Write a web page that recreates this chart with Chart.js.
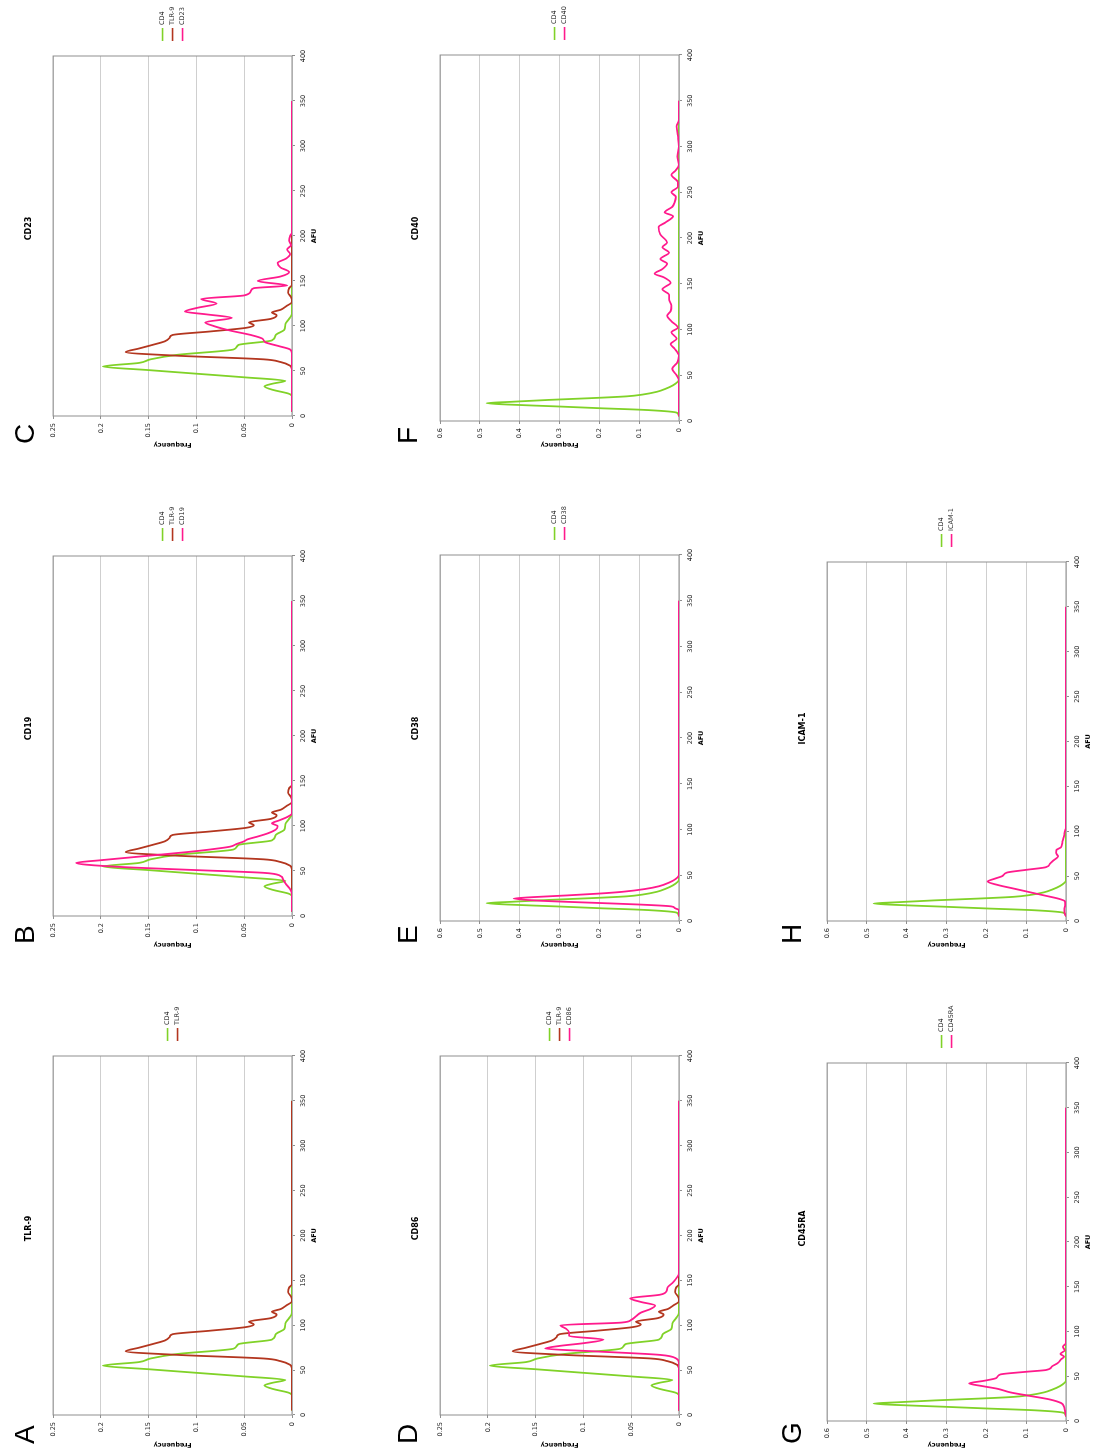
<!DOCTYPE html>
<html>
<head>
<meta charset="utf-8">
<script src="https://cdn.jsdelivr.net/npm/chart.js@4.4.1/dist/chart.umd.min.js"></script>
<style>
  html, body { margin: 0; padding: 0; background: #fff; }
  body { width: 1098px; height: 1456px; overflow: hidden; position: relative; }
  /* the figure is laid out landscape, then turned a quarter turn left */
  #sheet { position: absolute; left: 0; top: 0; width: 1456px; height: 1098px;
           transform-origin: 0 0; transform: translate(0, 1456px) rotate(-90deg); }
  .panel { position: absolute; }
  .letter { position: absolute; font: 28px "Liberation Sans", Arial, sans-serif; line-height: 28px; color: #000; }
</style>
</head>
<body>
<div id="sheet"></div>
<script>
/* --------------- Tick Labels --------------------- */
const afuTicks = [0, 50, 100, 150, 200, 250, 300, 350, 400];
const freqTicksLow = [0, 0.05, 0.1, 0.15, 0.2, 0.25];
const freqTicksHigh = [0, 0.1, 0.2, 0.3, 0.4, 0.5, 0.6];

/* --------------- Series (AFU, Frequency) --------------------- */
// CD4 reference, panels A-D
const cd4LowAfu  = [5, 22, 25, 29, 33, 36, 39, 43, 47, 51, 55, 59, 63, 68, 74, 79, 84, 90, 96, 102, 108, 114, 350];
const cd4LowFreq = [0, 0, 0.004, 0.02, 0.029, 0.02, 0.007, 0.05, 0.1, 0.15, 0.198, 0.16, 0.148, 0.12, 0.061, 0.056, 0.021, 0.017, 0.008, 0.007, 0.003, 0, 0];

const tlr9Afu  = [5, 52, 56, 60, 63, 67, 71, 75, 79, 83, 87, 90, 94, 98, 101, 104, 108, 112, 115, 118, 122, 127, 132, 137, 142, 146, 350];
const tlr9Freq = [0, 0, 0.002, 0.012, 0.03, 0.12, 0.174, 0.16, 0.146, 0.133, 0.128, 0.125, 0.085, 0.048, 0.04, 0.045, 0.022, 0.016, 0.021, 0.012, 0.006, 0, 0.001, 0.004, 0.003, 0, 0];

const cd19Afu  = [5, 25, 30, 35, 40, 45, 48, 51, 54, 57, 59, 62, 65, 68, 71, 74, 77, 80, 83, 85, 88, 92, 96, 100, 103, 106, 110, 114, 350];
const cd19Freq = [0, 0, 0.002, 0.006, 0.009, 0.013, 0.03, 0.1, 0.17, 0.215, 0.226, 0.2, 0.17, 0.14, 0.11, 0.085, 0.065, 0.058, 0.05, 0.047, 0.037, 0.025, 0.017, 0.015, 0.021, 0.014, 0.005, 0, 0];

const cd23Afu  = [5, 70, 74, 78, 82, 86, 90, 95, 100, 104, 109, 113, 116, 120, 125, 130, 134, 139, 142, 145, 150, 155, 160, 165, 170, 175, 180, 185, 190, 195, 200, 204, 350];
const cd23Freq = [0, 0, 0.002, 0.015, 0.028, 0.031, 0.043, 0.065, 0.082, 0.091, 0.063, 0.09, 0.112, 0.1, 0.079, 0.095, 0.05, 0.043, 0.04, 0.005, 0.036, 0.012, 0.003, 0.012, 0.015, 0.006, 0.002, 0.005, 0.001, 0.003, 0.002, 0, 0];

const cd86Afu  = [5, 58, 63, 67, 71, 74, 77, 80, 84, 88, 92, 96, 100, 103, 106, 110, 114, 118, 122, 126, 130, 134, 138, 142, 147, 152, 158, 350];
const cd86Freq = [0, 0, 0.003, 0.02, 0.09, 0.14, 0.125, 0.1, 0.079, 0.115, 0.115, 0.118, 0.124, 0.06, 0.05, 0.045, 0.04, 0.03, 0.025, 0.04, 0.051, 0.02, 0.013, 0.012, 0.007, 0.003, 0, 0];

// CD4 reference, panels E-H
const cd4HighAfu  = [5, 9, 12, 14, 16, 18, 19.5, 21, 23, 25, 27, 29, 32, 35, 39, 43, 46, 350];
const cd4HighFreq = [0, 0.005, 0.08, 0.2, 0.31, 0.43, 0.483, 0.42, 0.33, 0.22, 0.13, 0.09, 0.055, 0.035, 0.015, 0.003, 0, 0];

const cd38Afu  = [5, 12, 14, 16, 18, 20, 22, 24.5, 26, 28, 30, 32, 35, 38, 42, 46, 50, 350];
const cd38Freq = [0, 0, 0.01, 0.02, 0.1, 0.22, 0.34, 0.415, 0.37, 0.28, 0.2, 0.14, 0.085, 0.05, 0.025, 0.008, 0, 0];

const cd40Afu  = [5, 44, 50, 57, 64, 71, 79, 84, 90, 97, 102, 109, 115, 120, 126, 133, 138, 144, 151, 157, 161, 166, 172, 177, 184, 190, 195, 204, 212, 217, 224, 228, 234, 239, 245, 250, 256, 261, 269, 274, 280, 289, 300, 312, 322, 329, 350];
const cd40Freq = [0, 0, 0.006, 0.017, 0.004, 0, 0.011, 0.021, 0.006, 0.019, 0.003, 0.019, 0.03, 0.021, 0.019, 0.025, 0.025, 0.042, 0.021, 0.038, 0.061, 0.042, 0.03, 0.047, 0.025, 0.042, 0.03, 0.047, 0.051, 0.034, 0.015, 0.036, 0.017, 0.011, 0.008, 0.019, 0.003, 0.003, 0.019, 0.008, 0, 0.004, 0, 0.003, 0.006, 0, 0];

const cd45raAfu  = [5, 12, 16, 20, 24, 28, 32, 36, 39, 42, 45, 48, 52, 55, 57, 61, 65, 69, 72, 75, 79, 83, 87, 350];
const cd45raFreq = [0, 0.003, 0.005, 0.012, 0.04, 0.09, 0.14, 0.172, 0.21, 0.243, 0.205, 0.175, 0.165, 0.1, 0.05, 0.035, 0.02, 0.012, 0.005, 0.014, 0.003, 0.008, 0, 0];

const icamAfu  = [5, 10, 14, 18, 22, 25, 28, 32, 36, 40, 44, 47, 50, 54, 57, 60, 64, 68, 72, 76, 79, 82, 86, 90, 95, 100, 104, 350];
const icamFreq = [0, 0.004, 0.004, 0.002, 0.003, 0.02, 0.05, 0.09, 0.13, 0.17, 0.197, 0.18, 0.16, 0.148, 0.1, 0.05, 0.04, 0.03, 0.02, 0.025, 0.024, 0.013, 0.01, 0.008, 0.005, 0.003, 0, 0];

/* --------------- Colours --------------------- */
const green = "#80d228";
const brown = "#b3361f";
const pink = "#ff1a8c";

const line = (label, afu, freq, color) => ({ label, afu, freq, color });
const cd4Low = line("CD4", cd4LowAfu, cd4LowFreq, green);
const tlr9 = line("TLR-9", tlr9Afu, tlr9Freq, brown);
const cd19 = line("CD19", cd19Afu, cd19Freq, pink);
const cd23 = line("CD23", cd23Afu, cd23Freq, pink);
const cd86 = line("CD86", cd86Afu, cd86Freq, pink);
const cd4High = line("CD4", cd4HighAfu, cd4HighFreq, green);
const cd38 = line("CD38", cd38Afu, cd38Freq, pink);
const cd40 = line("CD40", cd40Afu, cd40Freq, pink);
const cd45ra = line("CD45RA", cd45raAfu, cd45raFreq, pink);
const icam = line("ICAM-1", icamAfu, icamFreq, pink);

/* --------------- Panels --------------------- */
const panels = [
  { letter: "A", title: "TLR-9",  col: 0, row: 0, ticks: freqTicksLow,  yW: 41, keyW: 55, lines: [cd4Low, tlr9] },
  { letter: "B", title: "CD19",   col: 1, row: 0, ticks: freqTicksLow,  yW: 40, keyW: 55, lines: [cd4Low, tlr9, cd19] },
  { letter: "C", title: "CD23",   col: 2, row: 0, ticks: freqTicksLow,  yW: 40, keyW: 55, lines: [cd4Low, tlr9, cd23] },
  { letter: "D", title: "CD86",   col: 0, row: 1, ticks: freqTicksLow,  yW: 41, keyW: 55, lines: [cd4Low, tlr9, cd86] },
  { letter: "E", title: "CD38",   col: 1, row: 1, ticks: freqTicksHigh, yW: 35, keyW: 54, lines: [cd4High, cd38] },
  { letter: "F", title: "CD40",   col: 2, row: 1, ticks: freqTicksHigh, yW: 35, keyW: 54, lines: [cd4High, cd40] },
  { letter: "G", title: "CD45RA", col: 0, row: 2, ticks: freqTicksHigh, yW: 35, keyW: 62, lines: [cd4High, cd45ra] },
  { letter: "H", title: "ICAM-1", col: 1, row: 2, ticks: freqTicksHigh, yW: 35, keyW: 61, lines: [cd4High, icam] },
];
const rowTop = [0, 387, 774];
const letterTop = [11, 394, 778];

Chart.defaults.font.family = '"DejaVu Sans", Verdana, sans-serif';
Chart.defaults.color = "#222";

/* plot frame under the lines, and the key to the right of the plot */
const frameAndKey = {
  id: "frameAndKey",
  beforeDatasetsDraw(chart) {
    const { ctx, chartArea: a } = chart;
    ctx.save();
    ctx.strokeStyle = "#8f8f8f";
    ctx.lineWidth = 1;
    ctx.strokeRect(a.left, a.top, a.right - a.left, a.bottom - a.top);
    ctx.restore();
  },
  afterDraw(chart) {
    const { ctx, chartArea: a } = chart;
    const sets = chart.data.datasets;
    const x0 = a.right + 15;
    const mid = (a.top + a.bottom) / 2;
    ctx.save();
    ctx.font = '6.5px "DejaVu Sans"';
    ctx.textBaseline = "middle";
    ctx.textAlign = "left";
    sets.forEach((ds, i) => {
      const y = mid + (i - (sets.length - 1) / 2) * 10;
      ctx.strokeStyle = ds.borderColor;
      ctx.lineWidth = 1.6;
      ctx.beginPath();
      ctx.moveTo(x0, y);
      ctx.lineTo(x0 + 13, y);
      ctx.stroke();
      ctx.fillStyle = "#333";
      ctx.fillText(ds.label, x0 + 16, y);
    });
    ctx.restore();
  },
};

const sheet = document.getElementById("sheet");

panels.forEach((p) => {
  const box = document.createElement("div");
  box.className = "panel";
  box.style.left = p.col * 500 + "px";
  box.style.top = rowTop[p.row] + "px";
  const canvas = document.createElement("canvas");
  canvas.width = 455;
  canvas.height = 327;
  box.appendChild(canvas);
  sheet.appendChild(box);

  const tag = document.createElement("div");
  tag.className = "letter";
  tag.textContent = p.letter;
  tag.style.left = p.col * 500 + 12 + "px";
  tag.style.top = letterTop[p.row] + "px";
  sheet.appendChild(tag);

  const n = p.lines.length;
  new Chart(canvas, {
    type: "line",
    plugins: [frameAndKey],
    data: {
      datasets: p.lines.map((s, i) => ({
        label: s.label,
        data: s.afu.map((x, k) => ({ x, y: s.freq[k] })),
        borderColor: s.color,
        backgroundColor: s.color,
        borderWidth: 1.8,
        pointRadius: 0,
        cubicInterpolationMode: "monotone",
        fill: false,
        order: n - i,
      })),
    },
    options: {
      responsive: false,
      animation: false,
      layout: { padding: 0 },
      plugins: {
        legend: { display: false },
        tooltip: { enabled: false },
        title: {
          display: true,
          text: p.title,
          color: "#000",
          font: { size: 8, weight: "bold" },
          padding: { top: 24.5, bottom: 19 },
        },
      },
      scales: {
        x: {
          type: "linear",
          position: "bottom",
          min: 0,
          max: 400,
          afterBuildTicks: (s) => { s.ticks = afuTicks.map((v) => ({ value: v })); },
          afterFit: (s) => { s.height = 35; },
          ticks: { font: { size: 6.5 }, padding: 4, maxRotation: 0, autoSkip: false },
          grid: { drawOnChartArea: false, tickLength: 3, tickColor: "#8f8f8f" },
          border: { display: false },
          title: { display: true, text: "AFU", color: "#000", font: { size: 6.5, weight: "bold" }, padding: { top: 0, bottom: 9 } },
        },
        y: {
          type: "linear",
          position: "left",
          min: 0,
          max: p.ticks[p.ticks.length - 1],
          afterBuildTicks: (s) => { s.ticks = p.ticks.map((v) => ({ value: v })); },
          afterFit: (s) => { s.width = p.yW; },
          ticks: { font: { size: 6.5 }, padding: 4, callback: (v) => String(v) },
          grid: { color: "#cfcfcf", lineWidth: 1, tickLength: 3, tickColor: "#8f8f8f" },
          border: { display: false },
          title: { display: true, text: "Frequency", color: "#000", font: { size: 6.5, weight: "bold" }, padding: { top: 7, bottom: 0 } },
        },
        key: {
          type: "linear",
          position: "right",
          min: 0,
          max: 1,
          afterFit: (s) => { s.width = p.keyW; },
          ticks: { display: false },
          grid: { display: false, drawTicks: false },
          border: { display: false },
        },
      },
    },
  });
});
</script>
</body>
</html>
